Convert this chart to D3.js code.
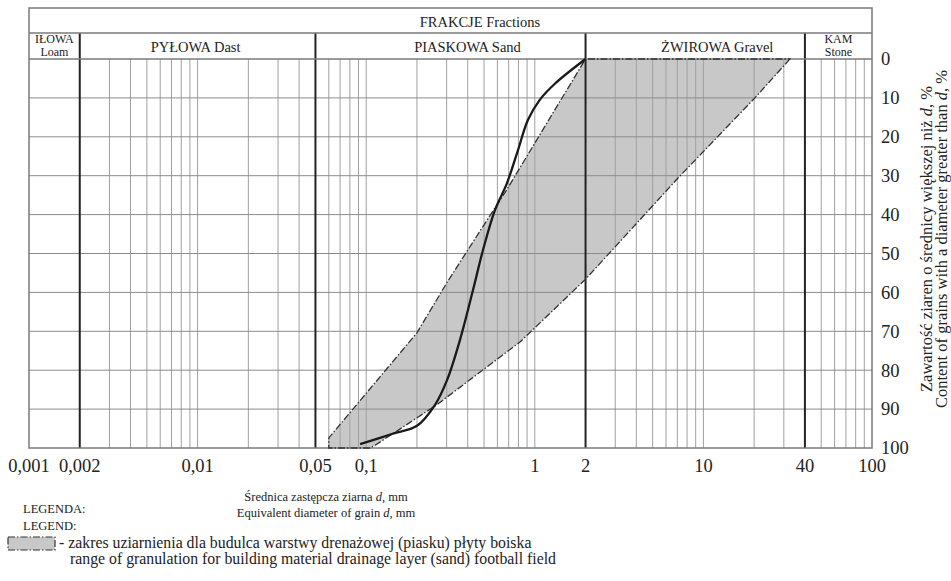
<!DOCTYPE html>
<html>
<head>
<meta charset="utf-8">
<script src="https://cdn.jsdelivr.net/npm/d3@7"></script>
<style>
  body { margin: 0; background: #fff; }
  text { font-family: "Liberation Serif", "Times New Roman", serif; fill: #222; }
</style>
</head>
<body>
<div id="chart"></div>
<script>
// SVG area size
var svgWidth = 951;
var svgHeight = 581;

// plot frame
var plot = { left: 29, right: 872, top: 59, bottom: 448 };
var header = { top: 8, mid: 33 };

// axis ticks
var xTickValues = [0.001, 0.002, 0.01, 0.05, 0.1, 1, 2, 10, 40, 100];
var xTickLabels = ["0,001", "0,002", "0,01", "0,05", "0,1", "1", "2", "10", "40", "100"];
var yTickValues = [0, 10, 20, 30, 40, 50, 60, 70, 80, 90, 100];

// fraction limits (mm) and names
var fractionLimits = [0.001, 0.002, 0.05, 2, 40, 100];
var fractionNames = [["IŁOWA", "Loam"], ["PYŁOWA Dast"], ["PIASKOWA Sand"], ["ŻWIROWA Gravel"], ["KAM", "Stone"]];
var fractionShift = [0, -2, 17, 22, 0];

// granulation range for drainage sand: [d mm, % greater than d]
var fineLimit = [[2, 0], [1.07, 19.5], [0.68, 33.7], [0.49, 43.2], [0.30, 57.6], [0.20, 70.4], [0.06, 97.4], [0.06, 100]];
var coarseLimit = [[32.6, 0], [20.2, 10], [7.07, 30.6], [2, 56.6], [0.82, 72.7], [0.26, 89], [0.113, 99.3], [0.105, 100]];

// sample grading curve
var sampleCurve = [[2, 0], [1.32, 6.3], [1.07, 10.5], [0.91, 15.7], [0.795, 23.4], [0.684, 31.9], [0.581, 38.8],
  [0.493, 49.1], [0.43, 59.4], [0.36, 72.2], [0.302, 82.5], [0.256, 88.9], [0.2, 94.3], [0.142, 96.4], [0.092, 99.0]];

var svg = d3.select("#chart")
  .append("svg")
  .attr("width", svgWidth)
  .attr("height", svgHeight);

var xScale = d3.scaleLog()
  .domain([0.001, 100])
  .range([plot.left, plot.right]);

var yScale = d3.scaleLinear()
  .domain([0, 100])
  .range([plot.top, plot.bottom]);

var dashDot = "7,2,1.5,2";

// band fill
var band = coarseLimit.concat(fineLimit.slice().reverse());
var line = d3.line()
  .x(d => xScale(d[0]))
  .y(d => yScale(d[1]));

svg.append("path")
  .attr("d", line(band) + "Z")
  .attr("fill", "#c8c8c8")
  .attr("stroke", "none");

// thin vertical grid
var heavy = fractionLimits.slice(1, -1);
svg.append("g")
  .selectAll("line")
  .data(xScale.ticks().filter(v => v > 0.001 && v < 100 && heavy.indexOf(+v.toPrecision(3)) < 0))
  .enter()
  .append("line")
  .attr("x1", d => xScale(d)).attr("x2", d => xScale(d))
  .attr("y1", plot.top).attr("y2", plot.bottom)
  .attr("stroke", "#a0a0a0")
  .attr("stroke-width", 1);

// horizontal grid
svg.append("g")
  .selectAll("line")
  .data(yTickValues.slice(1, -1))
  .enter()
  .append("line")
  .attr("x1", plot.left).attr("x2", plot.right)
  .attr("y1", d => yScale(d)).attr("y2", d => yScale(d))
  .attr("stroke", "#8c8c8c")
  .attr("stroke-width", 1);

// heavy fraction lines
svg.append("g")
  .selectAll("line")
  .data(heavy)
  .enter()
  .append("line")
  .attr("x1", d => xScale(d)).attr("x2", d => xScale(d))
  .attr("y1", header.mid).attr("y2", plot.bottom)
  .attr("stroke", "#222")
  .attr("stroke-width", 2);

// frame
var frame = svg.append("g").attr("fill", "none").attr("stroke", "#7a7a7a").attr("stroke-width", 1.5);
frame.append("rect")
  .attr("x", plot.left).attr("y", header.top)
  .attr("width", plot.right - plot.left).attr("height", plot.bottom - header.top);
frame.append("line")
  .attr("x1", plot.left).attr("x2", plot.right)
  .attr("y1", header.mid).attr("y2", header.mid);
frame.append("line")
  .attr("x1", plot.left).attr("x2", plot.right)
  .attr("y1", plot.top).attr("y2", plot.top);

// band outline
svg.append("path")
  .attr("d", line(band) + "Z")
  .attr("fill", "none")
  .attr("stroke", "#333")
  .attr("stroke-width", 1.3)
  .attr("stroke-dasharray", dashDot);

// sample curve
svg.append("path")
  .attr("d", d3.line().x(d => xScale(d[0])).y(d => yScale(d[1])).curve(d3.curveCatmullRom)(sampleCurve))
  .attr("fill", "none")
  .attr("stroke", "#1a1a1a")
  .attr("stroke-width", 2.3);

// header texts
svg.append("text")
  .attr("x", 480).attr("y", 27)
  .attr("text-anchor", "middle")
  .attr("font-size", 14.5)
  .text("FRAKCJE Fractions");

fractionNames.forEach((names, i) => {
  var cx = (xScale(fractionLimits[i]) + xScale(fractionLimits[i + 1])) / 2 + fractionShift[i];
  if (names.length === 1) {
    svg.append("text")
      .attr("x", cx).attr("y", 52)
      .attr("text-anchor", "middle")
      .attr("font-size", 14.5)
      .text(names[0]);
  } else {
    names.forEach((n, j) => {
      svg.append("text")
        .attr("x", cx).attr("y", 42.5 + j * 13.3)
        .attr("text-anchor", "middle")
        .attr("font-size", 12)
        .text(n);
    });
  }
});

// x tick labels
svg.append("g")
  .selectAll("text")
  .data(xTickValues)
  .enter()
  .append("text")
  .attr("x", d => xScale(d))
  .attr("y", 472)
  .attr("text-anchor", "middle")
  .attr("font-size", 18.5)
  .text((d, i) => xTickLabels[i]);

// y tick labels
svg.append("g")
  .selectAll("text")
  .data(yTickValues)
  .enter()
  .append("text")
  .attr("x", 881)
  .attr("y", d => yScale(d) + 6.3)
  .attr("font-size", 18.5)
  .text(d => d);

// y title
var yTitle = [["Zawartość ziaren o średnicy większej niż ", "d", ", %"],
              ["Content of grains with a diameter greater than ", "d", ", %"]];
yTitle.forEach((parts, i) => {
  var t = svg.append("text")
    .attr("transform", `translate(${932 + i * 15}, 239) rotate(-90)`)
    .attr("text-anchor", "middle")
    .attr("font-size", 16.5);
  t.append("tspan").text(parts[0]);
  t.append("tspan").attr("font-style", "italic").text(parts[1]);
  t.append("tspan").text(parts[2]);
});

// x title
var xTitle = [["Średnica zastępcza ziarna ", "d", ", mm"],
              ["Equivalent diameter of grain ", "d", ", mm"]];
xTitle.forEach((parts, i) => {
  var t = svg.append("text")
    .attr("x", 326).attr("y", 501 + i * 16)
    .attr("text-anchor", "middle")
    .attr("font-size", 12.5);
  t.append("tspan").text(parts[0]);
  t.append("tspan").attr("font-style", "italic").text(parts[1]);
  t.append("tspan").text(parts[2]);
});

// legend
svg.append("text").attr("x", 23).attr("y", 513).attr("font-size", 12.5).text("LEGENDA:");
svg.append("text").attr("x", 23).attr("y", 530).attr("font-size", 12.5).text("LEGEND:");

svg.append("rect")
  .attr("x", 8).attr("y", 537)
  .attr("width", 47).attr("height", 13)
  .attr("fill", "#c8c8c8")
  .attr("stroke", "#333")
  .attr("stroke-width", 1.2)
  .attr("stroke-dasharray", dashDot);

svg.append("text").attr("x", 59).attr("y", 548).attr("font-size", 15.8)
  .text("- zakres uziarnienia dla budulca warstwy drenażowej (piasku) płyty boiska");
svg.append("text").attr("x", 70).attr("y", 564).attr("font-size", 15.8)
  .text("range of granulation for building material drainage layer (sand) football field");
</script>
</body>
</html>
